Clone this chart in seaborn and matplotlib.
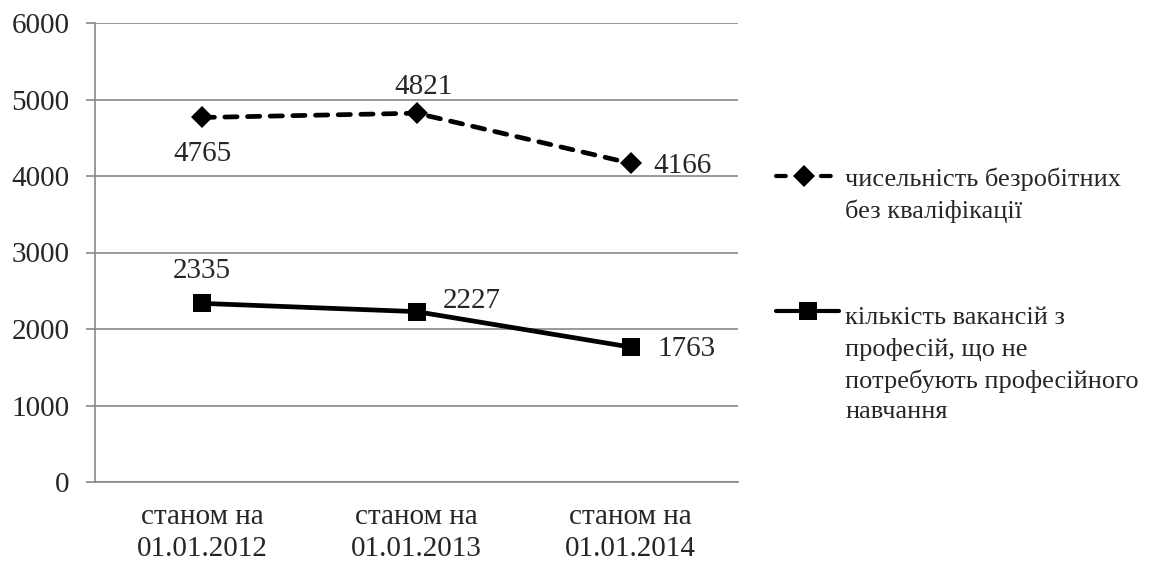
import matplotlib
matplotlib.use("Agg")
import matplotlib.pyplot as plt
from matplotlib.lines import Line2D
import seaborn as sns

categories = ["станом на\n01.01.2012", "станом на\n01.01.2013", "станом на\n01.01.2014"]
unemployed = [4765, 4821, 4166]
vacancies = [2335, 2227, 1763]
unemployed_label = "чисельність безробітних\nбез кваліфікації"
vacancies_label = "кількість вакансій з\nпрофесій, що не\nпотребують професійного\nнавчання"
y_ticks = [0, 1000, 2000, 3000, 4000, 5000, 6000]

sns.set_style("white")
plt.rcParams["font.family"] = ["Liberation Serif", "DejaVu Serif"]
plt.rcParams["font.size"] = 21

W, H = 1155, 563
GRID = "#878787"
LW = 3.4
DASH = (0, (2.6, 2.2))


def fx(px):
    return px / W


def fy(py):
    return 1 - py / H


fig = plt.figure(figsize=(W / 100, H / 100), dpi=100)
ax = fig.add_axes([fx(95), 81 / H, 643 / W, 459 / H])

sns.lineplot(x=categories, y=unemployed, ax=ax, sort=False, color="black", lw=LW,
             linestyle=DASH, dash_capstyle="round", marker="D", ms=11, mew=0)
sns.lineplot(x=categories, y=vacancies, ax=ax, sort=False, color="black", lw=LW,
             marker="s", ms=13, mew=0)

# data labels
offsets_u = [((0, -26), "center", "center"), ((5, 19), "center", "center"), ((16, -2), "left", "center")]
offsets_v = [((0, 23), "center", "center"), ((19, 8), "left", "center"), ((19, -1.5), "left", "center")]
for i, (val, (off, ha, va)) in enumerate(zip(unemployed, offsets_u)):
    ax.annotate(str(val), (i, val), xytext=off, textcoords="offset points", ha=ha, va=va)
for i, (val, (off, ha, va)) in enumerate(zip(vacancies, offsets_v)):
    ax.annotate(str(val), (i, val), xytext=off, textcoords="offset points", ha=ha, va=va)

ax.set_xlim(-0.5, 2.5)
ax.set_ylim(0, 6000)
ax.set_yticks(y_ticks)
ax.yaxis.grid(True, color=GRID, lw=1.2)
ax.set_axisbelow(True)
for side in ["top", "right"]:
    ax.spines[side].set_visible(False)
for side in ["left", "bottom"]:
    ax.spines[side].set_color(GRID)
    ax.spines[side].set_linewidth(1.2)

ax.set_xticks([-0.5, 0.5, 1.5, 2.5], minor=True)
ax.tick_params(axis="x", which="major", length=0, pad=16)
ax.tick_params(axis="x", which="minor", length=6, width=1.2, color=GRID, direction="out")
ax.tick_params(axis="y", length=6.5, width=1.2, color=GRID, direction="out", pad=12, left=True)
for lbl in ax.get_xticklabels():
    lbl.set_linespacing(1.3)

# legend drawn by hand so the handle sits on the first text line
mid = fx(803.5)
fig.add_artist(Line2D([fx(776), mid, fx(831)], [fy(176)] * 3, transform=fig.transFigure,
                      color="black", lw=3, linestyle=(0, (2.35, 8.44)), dash_capstyle="round",
                      marker="D", ms=11, mew=0, markevery=[1]))
fig.add_artist(Line2D([fx(776), fx(808), fx(839)], [fy(311)] * 3, transform=fig.transFigure,
                      color="black", lw=3, solid_capstyle="round",
                      marker="s", ms=13, mew=0, markevery=[1]))
fig.text(fx(845), fy(167), unemployed_label, ha="left", va="top", fontsize=19, linespacing=1.48)
fig.text(fx(845), fy(307), vacancies_label, ha="left", va="top", fontsize=19, linespacing=1.48)

fig.savefig("out.png", dpi=100)
